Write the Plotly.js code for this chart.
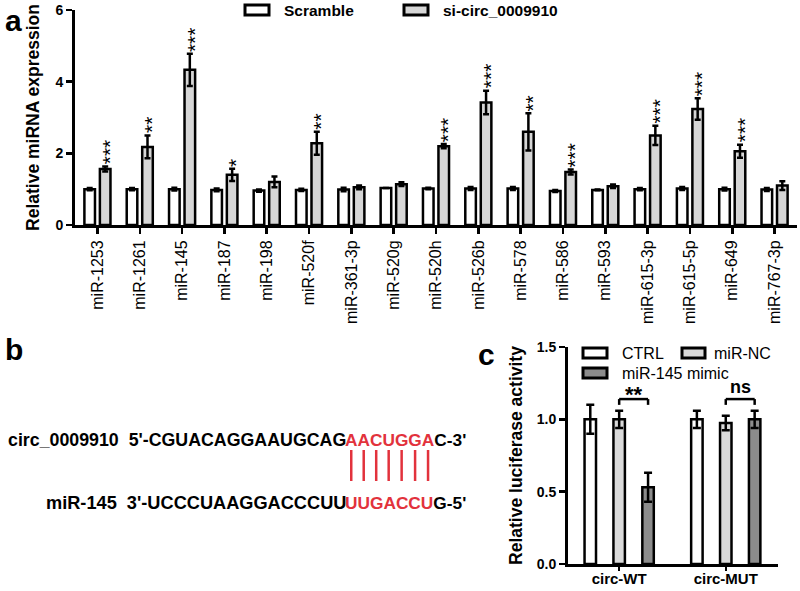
<!DOCTYPE html>
<html><head><meta charset="utf-8">
<script src="https://cdn.plot.ly/plotly-3.0.1.min.js"></script>
<style>html,body{margin:0;padding:0;background:#fff}</style>
</head><body><div id="chart" style="width:800px;height:591px"></div>
<script>
// ---------- Panel a data ----------
const mirnas = ['miR-1253','miR-1261','miR-145','miR-187','miR-198','miR-520f','miR-361-3p','miR-520g','miR-520h','miR-526b','miR-578','miR-586','miR-593','miR-615-3p','miR-615-5p','miR-649','miR-767-3p'];
const scrambleVals = [1.00,1.00,1.00,0.98,0.96,0.98,0.99,1.03,1.02,1.02,1.02,0.95,0.98,1.00,1.02,1.00,0.99];
const scrambleErr  = [0.03,0.03,0.04,0.04,0.03,0.03,0.05,0.00,0.02,0.04,0.04,0.03,0.01,0.03,0.04,0.04,0.04];
const siCircVals   = [1.56,2.18,4.33,1.40,1.20,2.28,1.05,1.14,2.20,3.42,2.60,1.48,1.08,2.50,3.24,2.06,1.10];
const siCircErr    = [0.07,0.32,0.45,0.17,0.15,0.32,0.05,0.05,0.06,0.33,0.52,0.07,0.05,0.27,0.30,0.18,0.12];
const sigA         = ['***','**','***','*','','**','','','***','***','**','***','','***','***','***',''];
const seriesA = ['Scramble','si-circ_0009910'];
const yTicksA = [0,2,4,6];

// ---------- Panel b text ----------
const circName = 'circ_0009910';
const circLeft = "5'-CGUACAGGAAUGCAG", circSeed = 'AACUGGA', circRight = "C-3'";
const mirName  = 'miR-145';
const mirLeft  = "3'-UCCCUAAGGACCCUU", mirSeed = 'UUGACCU', mirRight = "G-5'";

// ---------- Panel c data ----------
const groupsC = ['circ-WT','circ-MUT'];
const seriesC = ['CTRL','miR-NC','miR-145 mimic'];
const ctrlVals  = [1.00,1.00], ctrlErr  = [0.10,0.06];
const ncVals    = [1.00,0.975], ncErr   = [0.06,0.05];
const mimicVals = [0.53,1.00], mimicErr = [0.10,0.06];
const sigC = ['**','ns'];
const yTicksC = [0,0.5,1.0,1.5];
const yTickTextC = ['0.0','0.5','1.0','1.5'];

// ---------- styling ----------
const FONT = 'Liberation Sans, Arial, Helvetica, sans-serif';
const W = 800, H = 591;
const px = v => v / W, py = v => 1 - v / H;
const RED = '#e2323c';
const colA = ['#ffffff','#d6d6d6'];
const colC = ['#ffffff','#d9d9d9','#8c8c8c'];

const wA = 0.25, cA = [-0.183, 0.183];
const wC = 0.1075, cC = [-0.271, 0, 0.271];

const errStyle = (arr) => ({type:'data', array:arr, visible:true, color:'#000', thickness:2.5, width:3});

const traces = [
  {type:'bar', x:mirnas, y:scrambleVals, name:seriesA[0], width:wA, offset:cA[0]-wA/2,
   marker:{color:colA[0], line:{color:'#000', width:2.5}}, error_y:errStyle(scrambleErr), xaxis:'x', yaxis:'y'},
  {type:'bar', x:mirnas, y:siCircVals, name:seriesA[1], width:wA, offset:cA[1]-wA/2,
   marker:{color:colA[1], line:{color:'#000', width:2.5}}, error_y:errStyle(siCircErr), xaxis:'x', yaxis:'y'}
];
[[ctrlVals,ctrlErr],[ncVals,ncErr],[mimicVals,mimicErr]].forEach((d,i)=>{
  traces.push({type:'bar', x:groupsC, y:d[0], name:seriesC[i], width:wC, offset:cC[i]-wC/2,
    marker:{color:colC[i], line:{color:'#000', width:2.5}}, error_y:Object.assign(errStyle(d[1]),{width:4}),
    xaxis:'x2', yaxis:'y2'});
});

const annotations = [];
const shapes = [];

// panel letters
annotations.push({text:'a', x:px(3), y:py(2), xref:'paper', yref:'paper', xanchor:'left', yanchor:'top', showarrow:false, font:{size:30, weight:'bold', color:'#000'}});
annotations.push({text:'b', x:px(3), y:py(331), xref:'paper', yref:'paper', xanchor:'left', yanchor:'top', showarrow:false, font:{size:30, weight:'bold', color:'#000'}});
annotations.push({text:'c', x:px(476), y:py(336), xref:'paper', yref:'paper', xanchor:'left', yanchor:'top', showarrow:false, font:{size:30, weight:'bold', color:'#000'}});

// panel a significance stars
sigA.forEach((s,i)=>{
  if(!s) return;
  annotations.push({text:s, x:mirnas[i], y:siCircVals[i]+siCircErr[i], xref:'x', yref:'y', textangle:-90,
    xanchor:'center', yanchor:'bottom', xshift:cA[1]*42.4+4, yshift:0, showarrow:false, font:{size:21, color:'#000'}});
});

// panel a legend
const legA = [{x0:245,x1:269,tx:282},{x0:404,x1:428,tx:441}];
legA.forEach((L,i)=>{
  shapes.push({type:'rect', xref:'paper', yref:'paper', x0:px(L.x0), x1:px(L.x1), y0:py(15), y1:py(5), fillcolor:colA[i], line:{color:'#000', width:3}});
  annotations.push({text:seriesA[i], x:px(L.tx), y:py(10), xref:'paper', yref:'paper', xanchor:'left', yanchor:'middle', showarrow:false, font:{size:15.5, weight:'bold', color:'#000'}});
});

// panel c legend
const legC = [{x0:583,x1:607,y:353,tx:620},{x0:682,x1:705,y:353,tx:712},{x0:583,x1:607,y:373,tx:620}];
legC.forEach((L,i)=>{
  shapes.push({type:'rect', xref:'paper', yref:'paper', x0:px(L.x0), x1:px(L.x1), y0:py(L.y+5), y1:py(L.y-5), fillcolor:colC[i], line:{color:'#000', width:3}});
  annotations.push({text:seriesC[i], x:px(L.tx), y:py(L.y), xref:'paper', yref:'paper', xanchor:'left', yanchor:'middle', showarrow:false, font:{size:16, color:'#000'}});
});

// panel c brackets between miR-NC and mimic
sigC.forEach((s,g)=>{
  const xa = g + cC[1], xb = g + cC[2], yb = 1.14, yl = 1.10;
  shapes.push({type:'line', xref:'x2', yref:'y2', x0:xa, x1:xb, y0:yb, y1:yb, line:{color:'#000', width:2.5}});
  shapes.push({type:'line', xref:'x2', yref:'y2', x0:xa, x1:xa, y0:yb, y1:yl, line:{color:'#000', width:2.5}});
  shapes.push({type:'line', xref:'x2', yref:'y2', x0:xb, x1:xb, y0:yb, y1:yl, line:{color:'#000', width:2.5}});
  annotations.push({text:s, x:(xa+xb)/2, y:yb, xref:'x2', yref:'y2', xanchor:'center', yanchor:'bottom', yshift:s==='ns'?0:-10,
    showarrow:false, font:{size:s==='ns'?18:22, weight:'bold', color:'#000'}});
});

// panel b sequences: left part anchored right at the seed start, seed + right part anchored left
const seedX = 345;
const seqRows = [
  {left:`${circName}\u00A0\u00A0${circLeft}`, seed:circSeed, right:circRight, y:440, lsize:17.8},
  {left:`${mirName}\u00A0\u00A0${mirLeft}`, seed:mirSeed, right:mirRight, y:503, lsize:18.2}
];
seqRows.forEach(r=>{
  annotations.push({text:r.left, x:px(seedX), y:py(r.y), xref:'paper', yref:'paper', xanchor:'right', yanchor:'middle',
    showarrow:false, font:{size:r.lsize, weight:'bold', color:'#000'}, borderpad:0, borderwidth:0, xshift:1});
  annotations.push({text:`<span style="color:${RED}">${r.seed}</span>${r.right}`, x:px(seedX), y:py(r.y), xref:'paper', yref:'paper', xanchor:'left', yanchor:'middle',
    showarrow:false, font:{size:17.3, weight:'bold', color:'#000'}, borderpad:0, borderwidth:0, xshift:0});
});
// base-pair lines (fallback positions; refined from rendered letters below)
const pairStart = 350, pairStep = 12.8;
const pairShapeStart = shapes.length;
for(let k=0;k<circSeed.length;k++){
  const xx = pairStart + k*pairStep;
  shapes.push({type:'line', xref:'paper', yref:'paper', x0:px(xx), x1:px(xx), y0:py(450), y1:py(481), line:{color:RED, width:2.5}});
}

const axCommon = {showline:true, linecolor:'#000', linewidth:3, ticks:'outside', ticklen:6, tickwidth:2.5, tickcolor:'#000',
  showgrid:false, zeroline:false, fixedrange:true};

const layout = {
  width:W, height:H, margin:{l:0,r:0,t:0,b:0}, paper_bgcolor:'#fff', plot_bgcolor:'rgba(0,0,0,0)',
  font:{family:FONT, color:'#000'}, showlegend:false, barmode:'overlay',
  xaxis:Object.assign({}, axCommon, {domain:[px(75), px(797)], range:[-0.53, 16.53], type:'category', anchor:'y',
    tickangle:-90, tickfont:{size:16, color:'#000'}}),
  yaxis:Object.assign({}, axCommon, {domain:[py(225), py(10)], range:[0,6], tickvals:yTicksA, anchor:'x',
    tickfont:{size:14, weight:'bold'}, title:{text:'Relative miRNA expression', font:{size:17.5, weight:'bold'}, standoff:12}}),
  xaxis2:Object.assign({}, axCommon, {domain:[px(568), px(778)], range:[-0.48, 1.49], type:'category', anchor:'y2',
    ticklen:4, ticklabelstandoff:-5, tickfont:{size:15, weight:'bold'}}),
  yaxis2:Object.assign({}, axCommon, {domain:[py(564), py(347)], range:[0,1.5], tickvals:yTicksC, ticktext:yTickTextC, anchor:'x2',
    tickfont:{size:14, weight:'bold'}, title:{text:'Relative luciferase activity', font:{size:17.5, weight:'bold'}, standoff:10}}),
  annotations, shapes
};

Plotly.newPlot('chart', traces, layout, {staticPlot:true, displayModeBar:false}).then(gd=>{
  try {
    const els = Array.from(gd.querySelectorAll('text.annotation-text')).filter(t=>t.textContent.indexOf(circSeed)===0);
    if(!els.length) return;
    const el = els[0];
    const ctm = el.getScreenCTM();
    const box = gd.getBoundingClientRect();
    const newShapes = gd.layout.shapes.slice();
    for(let k=0;k<circSeed.length;k++){
      const r = el.getExtentOfChar(k);
      const pt = new DOMPoint(r.x + r.width/2, r.y).matrixTransform(ctm);
      const xx = pt.x - box.left;
      newShapes[pairShapeStart+k] = Object.assign({}, newShapes[pairShapeStart+k], {x0:px(xx), x1:px(xx)});
    }
    return Plotly.relayout(gd, {shapes:newShapes});
  } catch(e) {}
});
</script></body></html>
